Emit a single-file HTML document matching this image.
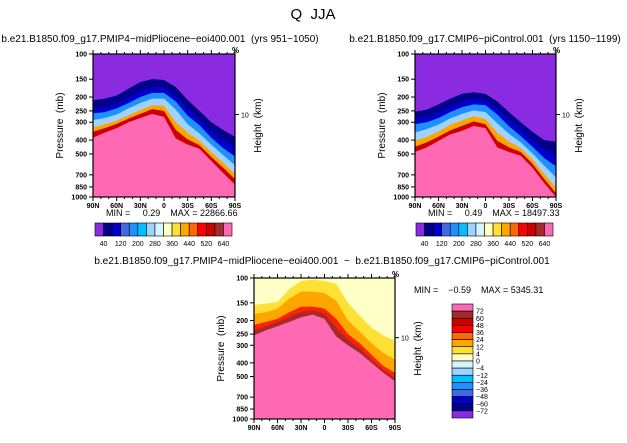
<!DOCTYPE html>
<html><head><meta charset="utf-8"><style>
body{margin:0;background:#fff;}
svg text{font-family:"Liberation Sans",sans-serif;fill:#000;white-space:pre;}
</style></head><body>
<svg id="fig" width="627" height="438" viewBox="0 0 627 438" xmlns="http://www.w3.org/2000/svg">
<text x="313" y="19" font-size="15" text-anchor="middle">Q  JJA</text>
<text x="160" y="42" font-size="10" text-anchor="middle">b.e21.B1850.f09_g17.PMIP4−midPliocene−eoi400.001  (yrs 951−1050)</text>
<text x="485" y="42" font-size="10" text-anchor="middle">b.e21.B1850.f09_g17.CMIP6−piControl.001  (yrs 1150−1199)</text>
<text x="322" y="264" font-size="10" text-anchor="middle">b.e21.B1850.f09_g17.PMIP4−midPliocene−eoi400.001  −  b.e21.B1850.f09_g17.CMIP6−piControl.001</text>
<g id="layer"></g>
</svg>
<script>
// ---- data ----
const lats = [90,75,60,45,30,15,0,-15,-30,-45,-60,-75,-90];
const pTicks = [100,150,200,250,300,400,500,700,850,1000];
const latTicks = [90,60,30,0,-30,-60,-90];
const latTickLabels = ["90N","60N","30N","0","30S","60S","90S"];
// left panel contour boundaries (mb), top to bottom
const L0 = [210,205,195,175,157,150,152,170,210,250,300,340,380];
const L1 = [240,235,222,200,180,170,170,195,240,285,345,400,450];
const L2 = [260,255,240,220,200,187,187,215,270,315,385,455,520];
const L3 = [290,280,265,240,220,205,205,245,310,360,430,510,600];
const L4 = [325,310,292,268,247,228,230,300,355,405,485,575,690];
const L5 = [350,330,308,283,262,243,250,340,395,435,525,625,750];
const L6 = [385,355,330,300,280,262,275,390,430,460,560,680,820];
// right panel contour boundaries
const R0 = [254,245,225,205,190,185,190,215,255,300,350,400,410];
const R1 = [285,275,255,235,215,205,210,240,285,335,400,470,500];
const R2 = [310,300,280,255,235,225,228,265,320,375,445,535,610];
const R3 = [355,335,312,282,262,248,255,305,362,415,495,605,730];
const R4 = [405,380,348,312,292,272,285,355,410,455,545,690,860];
const R5 = [445,415,378,342,318,296,310,405,450,485,585,750,940];
const R6 = [485,450,405,365,345,318,330,450,485,515,625,800,1000];
// diff panel contour boundaries
const D0 = [155,152,148,120,105,103,105,110,150,185,225,255,280];
const D1 = [180,175,165,140,125,125,128,145,200,240,290,340,380];
const D2 = [215,205,195,175,160,160,165,195,250,290,350,420,470];
const D3 = [235,220,205,190,175,170,180,225,275,315,380,450,510];
const D4 = [255,235,220,205,190,182,195,260,300,340,400,470,540];
// colorbars
const topBarColors = ["#8a2be2","#00008b","#0000cd","#4169e1","#1e90ff","#00bfff","#a0d2ff","#d2f5ff","#ffffc8","#ffe135","#ffa500","#ff6a00","#ff0000","#cd0000","#a52a2a","#ff69b4"];
const topBarLabels = ["40","120","200","280","360","440","520","640"];
const diffBarColors = ["#ff69b4","#a52a2a","#cd0000","#ff0000","#ff6a00","#ffa500","#ffe135","#ffffc8","#d2f5ff","#a0d2ff","#00bfff","#1e90ff","#4169e1","#0000cd","#00008b","#8a2be2"];
const diffBarLabels = ["72","60","48","36","24","12","4","0","−4","−12","−24","−36","−48","−60","−72"];

const NS="http://www.w3.org/2000/svg";
const layer=document.getElementById('layer');
function mk(tag,attrs,parent){const e=document.createElementNS(NS,tag);for(const k in attrs)e.setAttribute(k,attrs[k]);(parent||layer).appendChild(e);return e;}

function panel(x0,y0,w,h,bounds,colors,name){
  const xs=lat=>x0+(90-lat)/180*w;
  const ys=p=>y0+(Math.log(p)-Math.log(100))/Math.log(10)*h;
  const g=mk('g',{});
  
  
  const bg=mk('rect',{x:x0,y:y0,width:w,height:h,fill:colors[0]},g);
  
  
  bounds.forEach((b,i)=>{
    let d='M'+xs(lats[0])+','+ys(Math.min(b[0],1000));
    lats.forEach((la,j)=>{d+=' L'+xs(la)+','+ys(Math.min(b[j],1000));});
    d+=' L'+(x0+w)+','+(y0+h)+' L'+x0+','+(y0+h)+'Z';
    const pth=mk('path',{d:d,fill:colors[i+1]},g);
    
    
  });
  mk('rect',{x:x0,y:y0,width:w,height:h,fill:'none',stroke:'#000','stroke-width':1.2},g);
  pTicks.forEach(p=>{
    const y=ys(p);
    mk('line',{x1:x0-4,x2:x0,y1:y,y2:y,stroke:'#000'},g);
    const t=mk('text',{x:x0-6,y:y+2.5,'font-size':7,'text-anchor':'end','font-weight':'bold'},g);t.textContent=p;
    
    
  });
  for(let la=90;la>=-90;la-=10){const x=xs(la);mk('line',{x1:x,x2:x,y1:y0+h,y2:y0+h+(la%30===0?4:2),stroke:'#000'},g);mk('line',{x1:x,x2:x,y1:y0,y2:y0-(la%30===0?4:2),stroke:'#000'},g);}
  latTicks.forEach((la,i)=>{
    const t=mk('text',{x:xs(la),y:y0+h+11,'font-size':7,'text-anchor':'middle','font-weight':'bold'},g);t.textContent=latTickLabels[i];
    
    
  });
  const yt=ys(265);
  mk('line',{x1:x0+w,x2:x0+w+4,y1:yt,y2:yt,stroke:'#000'},g);
  const t10=mk('text',{x:x0+w+6,y:yt+3,'font-size':7},g);t10.textContent='10';
  const yl=mk('text',{x:0,y:0,'font-size':10,'text-anchor':'middle',transform:`translate(${x0-30},${y0+h/2}) rotate(-90)`},g);yl.textContent='Pressure  (mb)';
  
  
  const yr=mk('text',{x:0,y:0,'font-size':10,'text-anchor':'middle',transform:`translate(${x0+w+26},${y0+h/2}) rotate(-90)`},g);yr.textContent='Height  (km)';
  
  
  const pc=mk('text',{x:x0+w-3,y:y0-1,'font-size':8,'font-weight':'bold'},g);pc.textContent='%';
}
panel(93,54,142,143,[L0,L1,L2,L3,L4,L5,L6],["#8a2be2","#00008b","#0000cd","#1e90ff","#a0d2ff","#ffa500","#cd0000","#ff69b4"],'left-panel');
panel(415,54,141,143,[R0,R1,R2,R3,R4,R5,R6],["#8a2be2","#00008b","#0000cd","#1e90ff","#a0d2ff","#ffa500","#cd0000","#ff69b4"],'right-panel');
panel(254,278,141,141,[D0,D1,D2,D3,D4],["#ffffc8","#ffe135","#ffa500","#ff2000","#a52a2a","#ff69b4"],'diff-panel');

function stat(x,y,txt,name){const t=mk('text',{x:x,y:y,'font-size':9});t.textContent=txt;
  
  }
stat(106,216,'MIN =     0.29    MAX = 22866.66','left-minmax');
stat(428,216,'MIN =     0.49    MAX = 18497.33','right-minmax');
stat(414,293,'MIN =    −0.59    MAX = 5345.31','diff-minmax');

function hbar(x0,y0,w,h,name){
  const bw=w/topBarColors.length;
  topBarColors.forEach((c,i)=>{const r=mk('rect',{x:x0+i*bw,y:y0,width:bw,height:h,fill:c,stroke:'#000','stroke-width':0.6});
    
    });
  topBarLabels.forEach((l,i)=>{const t=mk('text',{x:x0+(i===7?15:2*i+1)*bw,y:y0+h+10,'font-size':7,'text-anchor':'middle'});t.textContent=l;
    
    });
}
hbar(95,223,137,13,'left-colorbar');
hbar(416,223,137,13,'right-colorbar');
(function(){const x0=452,y0=304,w=21,h=114,bh=h/diffBarColors.length;
  diffBarColors.forEach((c,i)=>{const r=mk('rect',{x:x0,y:y0+i*bh,width:w,height:bh,fill:c,stroke:'#000','stroke-width':0.6});
    
    });
  diffBarLabels.forEach((l,i)=>{const t=mk('text',{x:x0+w+3,y:y0+(i+1)*bh+2.5,'font-size':7});t.textContent=l;
    
    });
})();
</script>
</body></html>
